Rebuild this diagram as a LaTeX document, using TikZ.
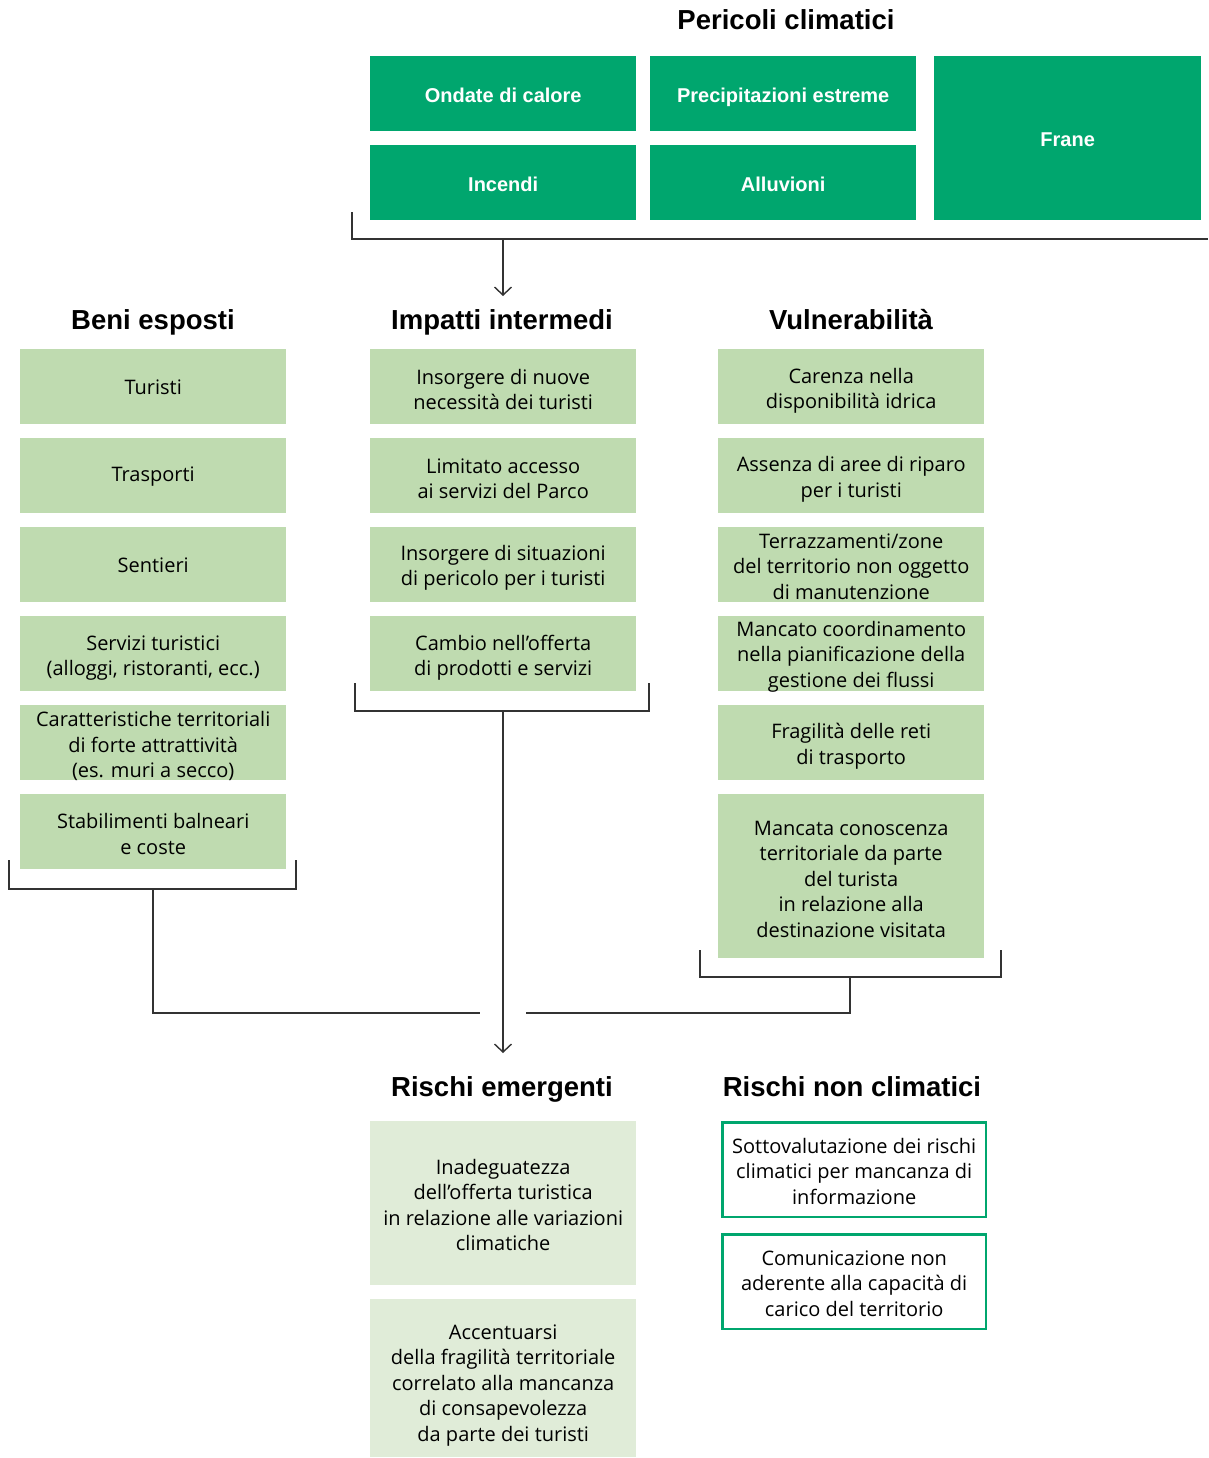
\documentclass[tikz,border=0pt]{standalone}
\usepackage{fontspec}
\setmainfont{Liberation Sans}
\newfontfamily\bodyfont{Open Sans}
\usetikzlibrary{arrows.meta}
\definecolor{hazard}{HTML}{00A66E}
\definecolor{asset}{HTML}{BFDBB0}
\definecolor{emerg}{HTML}{E0ECD8}
\definecolor{wire}{HTML}{333333}

\begin{document}
\begin{tikzpicture}[x=1pt,y=-1pt,
  box/.style={minimum width=266pt, minimum height=75pt, inner sep=0pt, anchor=north west},
  txt/.style={align=center, text=black, inner sep=0pt, font=\bodyfont\fontsize{20}{25.5}\selectfont},
  hbox/.style={box, fill=hazard, text=white, font=\bfseries\fontsize{20}{24}\selectfont,
    text height=17pt, text depth=0pt},
  abox/.style={box, fill=asset},
  ebox/.style={box, fill=emerg},
  nbox/.style={box, draw=hazard, line width=2.4pt, minimum width=263.6pt, minimum height=94.6pt},
  head/.style={font=\bfseries\fontsize{27.5}{30}\selectfont, text=black, anchor=base, inner sep=0pt},
  wire/.style={draw=wire, line width=1.4pt},
  arr/.style={wire, -{Straight Barb[length=8pt,width=17pt,line width=1.4pt]}}
]
\useasboundingbox (0,0) rectangle (1208,1458);
\fill[white] (0,0) rectangle (1208,1458);

% Climate hazards
\node[head] (hazT) at (786,30) {Pericoli climatici};
\node[hbox] (h1) at (370,56) {Ondate di calore};
\node[hbox] (h2) at (650,56) {Precipitazioni estreme};
\node[hbox] (h3) at (370,145) {Incendi};
\node[hbox] (h4) at (650,145) {Alluvioni};
\node[hbox, minimum width=267pt, minimum height=164pt] (h5) at (934,56) {Frane};

% Column headings
\node[head] (expT) at (153,329) {Beni esposti};
\node[head] (impT) at (502,329) {Impatti intermedi};
\node[head] (vulT) at (851,329) {Vulnerabilità};

% Exposed assets
\node[abox] (a1) at (20,349) {};
\node[abox] (a2) at (20,438) {};
\node[abox] (a3) at (20,527) {};
\node[abox] (a4) at (20,616) {};
\node[abox] (a5) at (20,705) {};
\node[abox] (a6) at (20,794) {};
\node[txt] (a1t) at ([yshift=-1pt]a1.center) {Turisti};
\node[txt] (a2t) at ([yshift=-1pt]a2.center) {Trasporti};
\node[txt] (a3t) at ([yshift=-1pt]a3.center) {Sentieri};
\node[txt] (a4t) at ([yshift=-4.5pt]a4.center) {Servizi turistici\\(alloggi, ristoranti, ecc.)};
\node[txt] (a5t) at ([yshift=-3.5pt]a5.center) {Caratteristiche territoriali\\di forte attrattività\\(es. muri a secco)};
\node[txt] (a6t) at ([yshift=-2.5pt]a6.center) {Stabilimenti balneari\\e coste};

% Intermediate impacts
\node[abox] (i1) at (370,349) {};
\node[abox] (i2) at (370,438) {};
\node[abox] (i3) at (370,527) {};
\node[abox] (i4) at (370,616) {};
\node[txt] (i1t) at ([yshift=-3pt]i1.center) {Insorgere di nuove\\necessità dei turisti};
\node[txt] (i2t) at ([yshift=-3pt]i2.center) {Limitato accesso\\ai servizi del Parco};
\node[txt] (i3t) at ([yshift=-3pt]i3.center) {Insorgere di situazioni\\di pericolo per i turisti};
\node[txt] (i4t) at ([yshift=-4pt]i4.center) {Cambio nell’offerta\\di prodotti e servizi};

% Vulnerabilities
\node[abox] (v1) at (718,349) {};
\node[abox] (v2) at (718,438) {};
\node[abox] (v3) at (718,527) {};
\node[abox] (v4) at (718,616) {};
\node[abox] (v5) at (718,705) {};
\node[abox, minimum height=164pt] (v6) at (718,794) {};
\node[txt] (v1t) at ([yshift=-4pt]v1.center) {Carenza nella\\disponibilità idrica};
\node[txt] (v2t) at ([yshift=-3.5pt]v2.center) {Assenza di aree di riparo\\per i turisti};
\node[txt] (v3t) at ([yshift=-2pt]v3.center) {Terrazzamenti/zone\\del territorio non oggetto\\di manutenzione};
\node[txt] (v4t) at ([yshift=-3pt]v4.center) {Mancato coordinamento\\nella pianificazione della\\gestione dei flussi};
\node[txt] (v5t) at ([yshift=-3.5pt]v5.center) {Fragilità delle reti\\di trasporto};
\node[txt] (v6t) at ([yshift=-3pt]v6.center) {Mancata conoscenza\\territoriale da parte\\del turista\\in relazione alla\\destinazione visitata};

% Emerging risks
\node[head] (emeT) at (502,1096) {Rischi emergenti};
\node[ebox, minimum height=164pt] (e1) at (370,1121) {};
\node[ebox, minimum height=158pt] (e2) at (370,1299) {};
\node[txt] (e1t) at ([yshift=-2pt]e1.center) {Inadeguatezza\\dell’offerta turistica\\in relazione alle variazioni\\climatiche};
\node[txt] (e2t) at ([yshift=-7pt]e2.center) {Accentuarsi\\della fragilità territoriale\\correlato alla mancanza\\di consapevolezza\\da parte dei turisti};

% Non-climatic risks
\node[head] (nclT) at (852,1096) {Rischi non climatici};
\node[nbox] (n1) at (721.2,1121.2) {};
\node[nbox] (n2) at (721.2,1233.2) {};
\node[txt] (n1t) at ([yshift=-1.5pt]n1.center) {Sottovalutazione dei rischi\\climatici per mancanza di\\informazione};
\node[txt] (n2t) at ([yshift=-2pt]n2.center) {Comunicazione non\\aderente alla capacità di\\carico del territorio};

% Bracket under the hazards and arrow to the impacts
\coordinate (hbL) at (352,212);
\coordinate (hbC) at (352,239);
\coordinate (hbR) at (1208,239);
\coordinate (hbM) at (503,239);
\coordinate (hbE) at (503,296);
\draw[wire] (hbL) -- (hbC) -- (hbR);
\draw[arr] (hbM) -- (hbE);

% Bracket under the exposed assets
\coordinate (abL) at (9,860);
\coordinate (abR) at (296,860);
\coordinate (abS) at (153,889);
\coordinate (abE) at (480,1013);
\draw[wire] (abL) |- (abS) -| (abR);
\draw[wire] (abS) |- (abE);

% Bracket under the impacts and arrow to the emerging risks
\coordinate (ibL) at (355,683);
\coordinate (ibR) at (649,683);
\coordinate (ibS) at (503,711);
\coordinate (ibE) at (503,1053);
\draw[wire] (ibL) |- (ibS) -| (ibR);
\draw[arr] (ibS) -- (ibE);

% Bracket under the vulnerabilities
\coordinate (vbL) at (700,950);
\coordinate (vbR) at (1001,950);
\coordinate (vbS) at (850,977);
\coordinate (vbE) at (526,1013);
\draw[wire] (vbL) |- (vbS) -| (vbR);
\draw[wire] (vbS) |- (vbE);
\end{tikzpicture}
\end{document}
